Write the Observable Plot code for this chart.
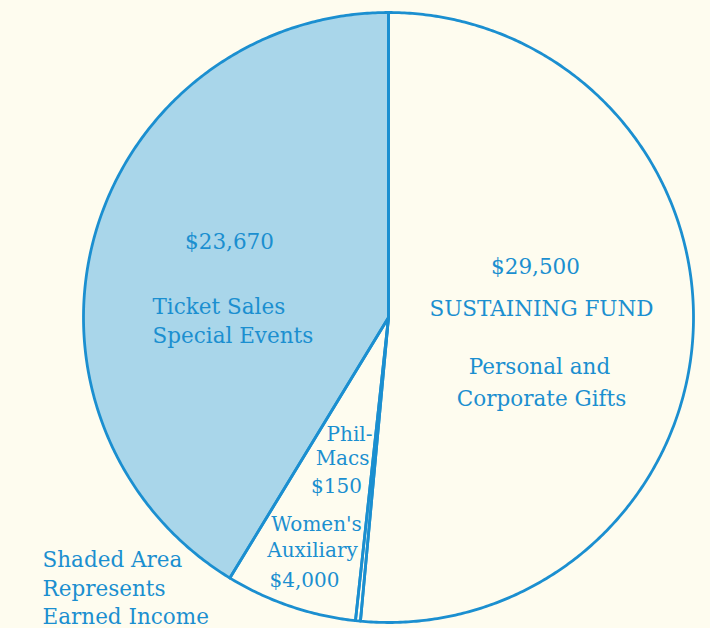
<!DOCTYPE html>
<html><head><meta charset="utf-8">
<script src="https://cdn.jsdelivr.net/npm/d3@7"></script>
<script src="https://cdn.jsdelivr.net/npm/@observablehq/plot@0.6"></script>
<style>
html,body{margin:0;padding:0;background:#fefcef;}
#chart svg{display:block;background:transparent;}
</style></head><body><div id="chart"></div>
<script>
// ---- data ----
const sources = ["Sustaining Fund", "Phil-Macs", "Women's Auxiliary", "Ticket Sales Special Events"];
const amounts = [29500, 150, 4000, 23670];
const earnedIncome = [false, false, false, true];
const amountLabels = ["$29,500", "$150", "$4,000", "$23,670"];
const legendLines = ["Shaded Area", "Represents", "Earned Income"];

// ---- layout (pixels) ----
const W = 710, H = 628, CX = 388, CY = 317, R = 305;
const ink = "#1b8fd0", shade = "#a9d6ea";
const font = "DejaVu Serif";

// text annotations: [text, px, baseline py, anchor, size]
const annotations = [
  [amountLabels[3], 229, 248, "middle", 21.5],
  ["Ticket Sales", 152, 313, "start", 21.5],
  ["Special Events", 152, 342, "start", 21.5],
  [amountLabels[0], 535, 273, "middle", 21.5],
  ["SUSTAINING FUND", 541, 315, "middle", 21.5],
  ["Personal and", 539, 373, "middle", 21.5],
  ["Corporate Gifts", 541, 405, "middle", 21.5],
  ["Phil-", 372, 440, "end", 20],
  ["Macs", 369, 464, "end", 20],
  [amountLabels[1], 336, 492, "middle", 20],
  ["Women's", 316, 530, "middle", 20],
  ["Auxiliary", 312, 556, "middle", 20],
  [amountLabels[2], 304, 586, "middle", 20],
  [legendLines[0], 42, 566, "start", 21.5],
  [legendLines[1], 42, 595, "start", 21.5],
  [legendLines[2], 42, 623, "start", 21.5]
].map(([text, px, py, anchor, size]) => ({text, x: (px - CX) / R, y: (py - CY) / R, anchor, size}));

// ---- slice geometry from the values ----
const arcs = d3.pie().sort(null).value(d => d)(amounts);
const pts = [];
arcs.forEach((s, i) => {
  const n = Math.max(2, Math.ceil((s.endAngle - s.startAngle) / (Math.PI / 360)));
  const base = {slice: sources[i], earned: earnedIncome[i]};
  pts.push({...base, x: 0, y: 0});
  for (let k = 0; k <= n; k++) {
    const a = s.startAngle + (s.endAngle - s.startAngle) * k / n;
    pts.push({...base, x: Math.sin(a), y: -Math.cos(a)});
  }
  pts.push({...base, x: 0, y: 0});
});

const textMarks = [];
for (const anchor of ["start", "middle", "end"]) {
  for (const size of [20, 21.5]) {
    const sub = annotations.filter(d => d.anchor === anchor && d.size === size);
    if (sub.length) textMarks.push(Plot.text(sub, {
      x: "x", y: "y", text: "text", textAnchor: anchor, lineAnchor: "bottom",
      fill: ink, fontFamily: font, fontSize: size
    }));
  }
}

const chart = Plot.plot({
  width: W, height: H, margin: 0,
  style: {background: "transparent", fontFamily: font},
  x: {domain: [-CX / R, (W - CX) / R], range: [0, W], axis: null},
  y: {domain: [-CY / R, (H - CY) / R], range: [0, H], axis: null},
  marks: [
    Plot.line(pts.filter(d => d.earned), {x: "x", y: "y", z: "slice", fill: shade, stroke: "none", curve: "linear"}),
    Plot.line(pts, {x: "x", y: "y", z: "slice", fill: "none", stroke: ink, strokeWidth: 2.8, strokeLinejoin: "round", curve: "linear"}),
    ...textMarks
  ]
});
document.getElementById("chart").appendChild(chart);
</script></body></html>
